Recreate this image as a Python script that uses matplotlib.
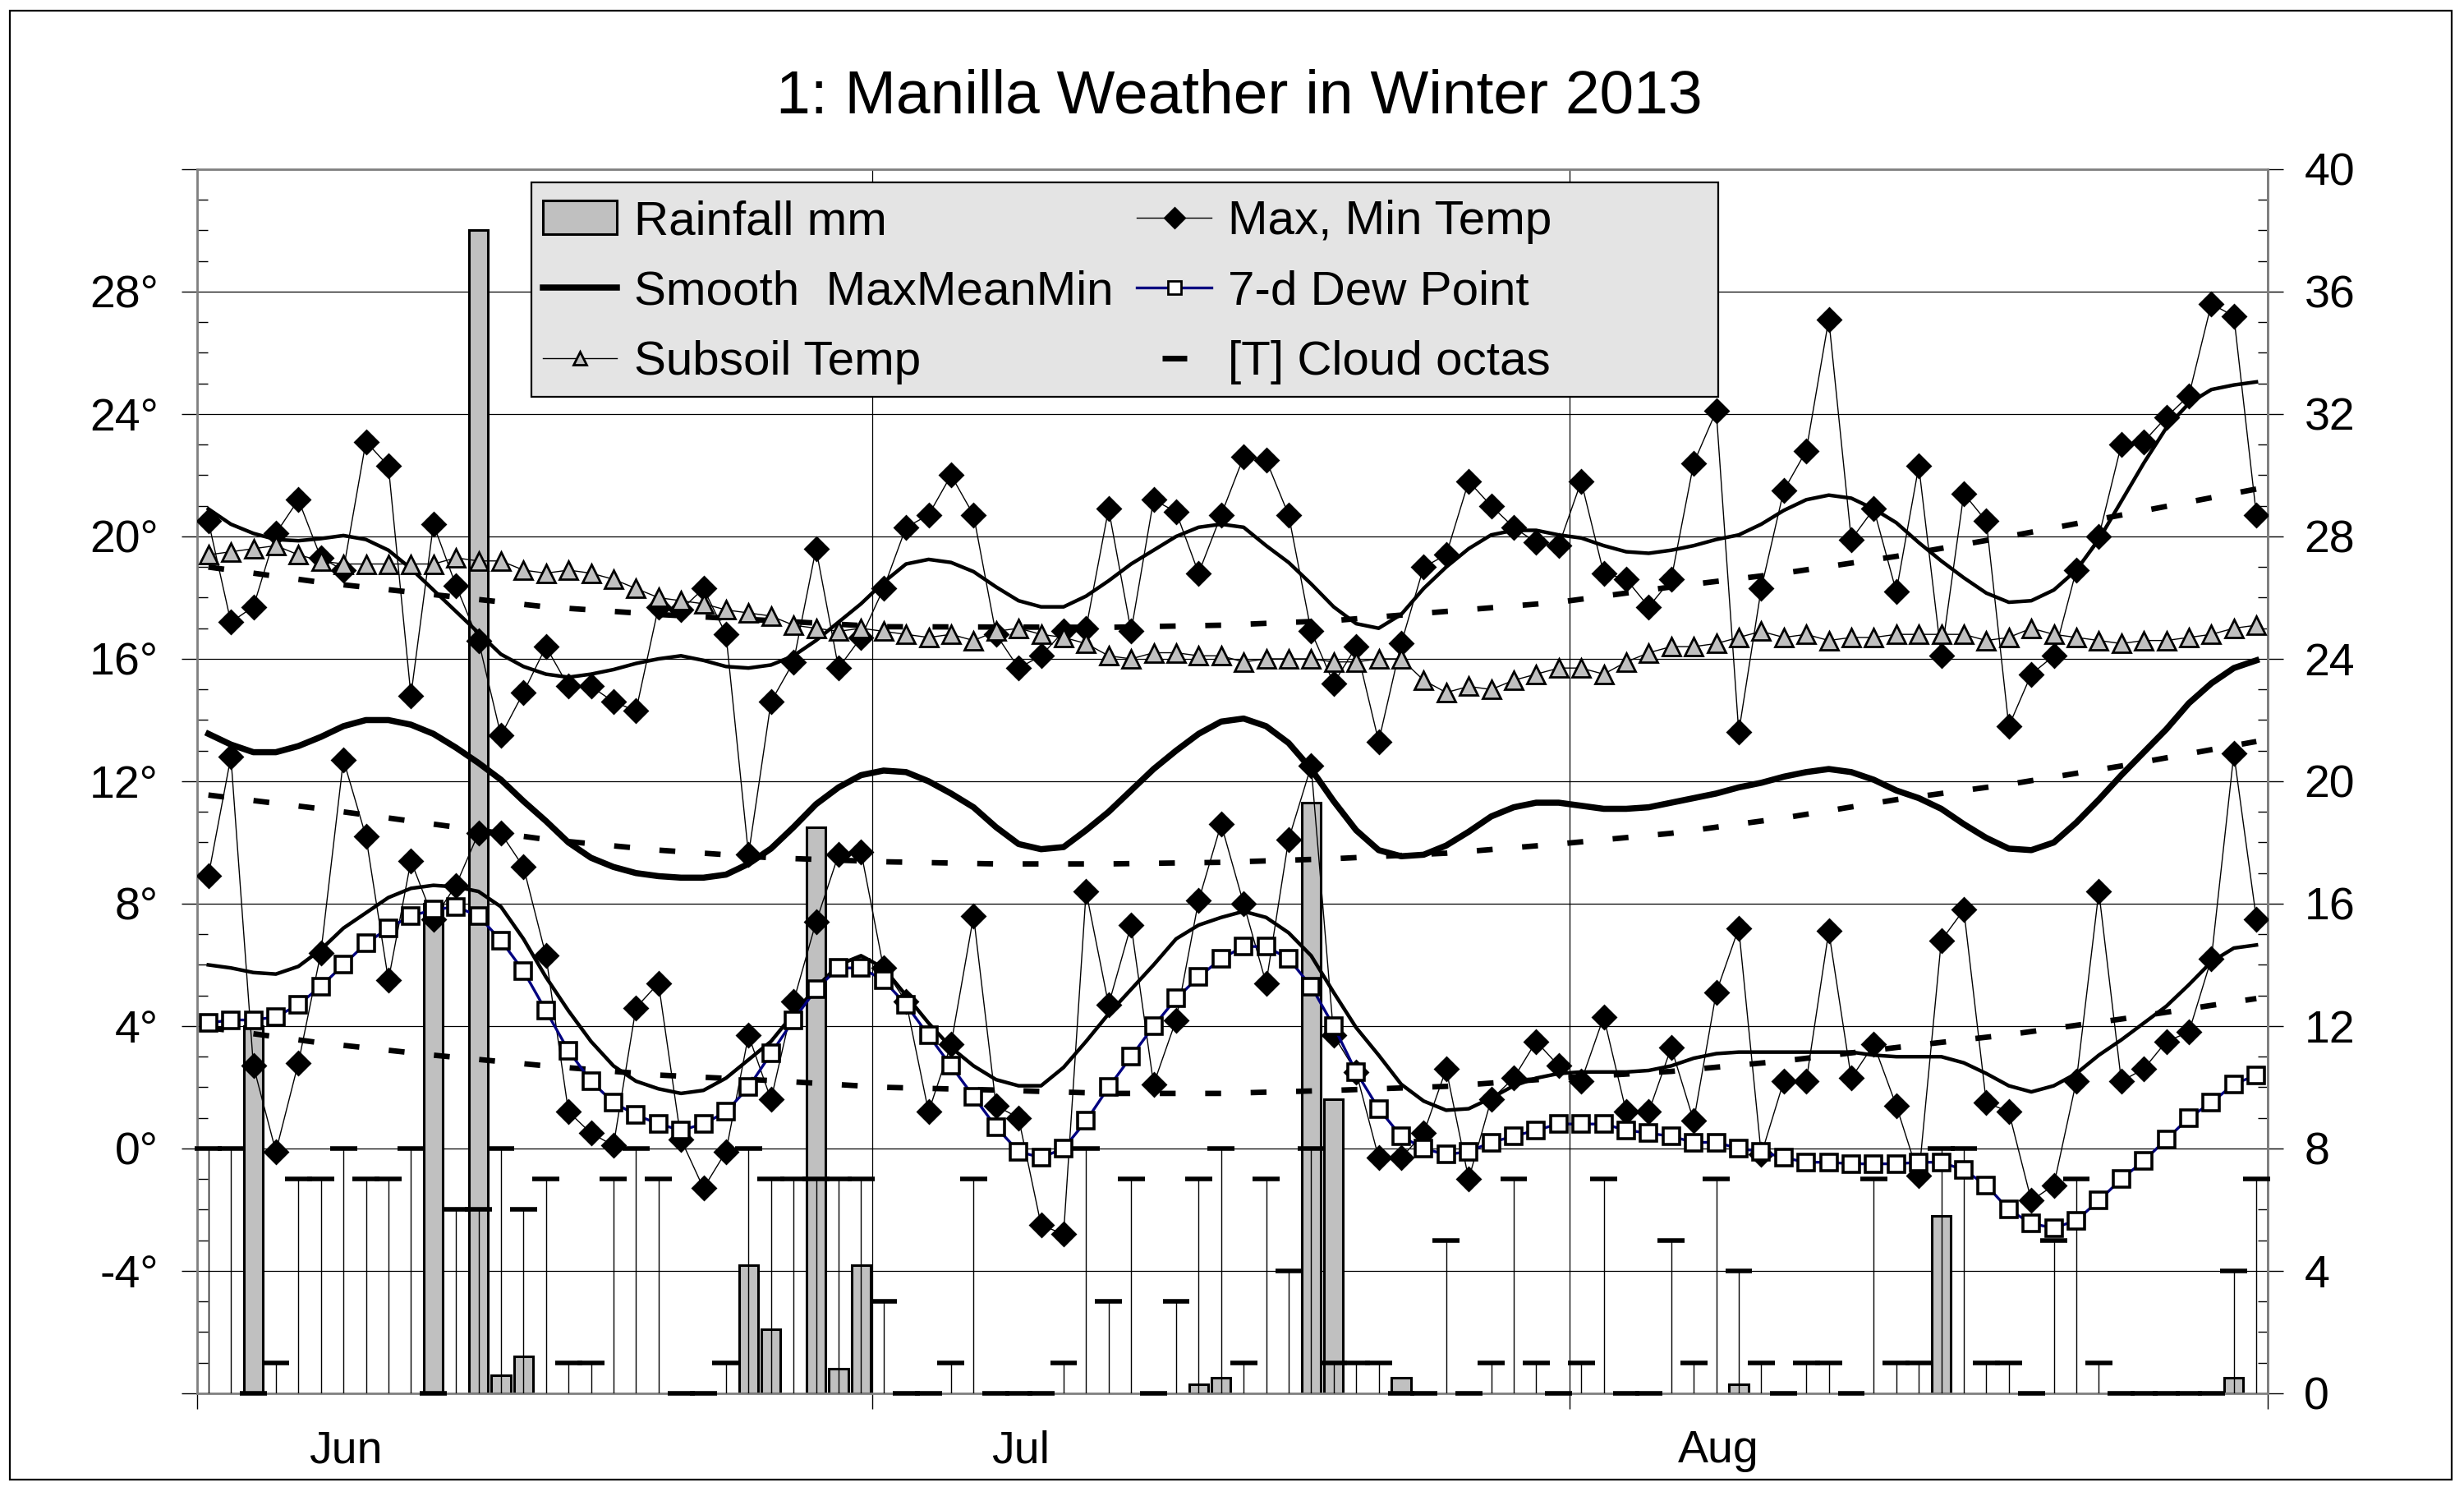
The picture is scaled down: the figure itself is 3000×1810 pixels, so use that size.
import numpy as np
import matplotlib
matplotlib.use("Agg")
import matplotlib.pyplot as plt
from matplotlib.patches import Rectangle
from matplotlib.lines import Line2D
from matplotlib.ticker import FixedLocator, MultipleLocator, FuncFormatter, NullFormatter

plt.rcParams['font.family'] = ['Liberation Sans', 'DejaVu Sans']
plt.rcParams['axes.unicode_minus'] = False

# --- daily data, 1 Jun .. 31 Aug 2013 (92 days) ---
max_temp = [20.5, 17.2, 17.7, 20.1, 21.2, 19.3, 18.9, 23.1, 22.3, 14.8,
            20.4, 18.4, 16.6, 13.5, 14.9, 16.4, 15.1, 15.1, 14.6, 14.3,
            17.7, 17.6, 18.3, 16.8, 9.6, 14.6, 15.9, 19.6, 15.7, 16.7,
            18.3, 20.3, 20.7, 22.0, 20.7, 16.8, 15.7, 16.1, 16.9, 17.0,
            20.9, 16.9, 21.2, 20.8, 18.8, 20.7, 22.6, 22.5, 20.7, 16.9,
            15.2, 16.4, 13.3, 16.5, 19.0, 19.4, 21.8, 21.0, 20.3, 19.8,
            19.7, 21.8, 18.8, 18.6, 17.7, 18.6, 22.4, 24.1, 13.6, 18.3,
            21.5, 22.8, 27.1, 19.9, 20.9, 18.2, 22.3, 16.1, 21.4, 20.5,
            13.8, 15.5, 16.1, 18.9, 20.0, 23.0, 23.1, 23.9, 24.6, 27.6,
            27.2, 20.7]
min_temp = [8.9, 12.8, 2.7, -0.1, 2.8, 6.4, 12.7, 10.2, 5.5, 9.4,
            7.5, 8.6, 10.3, 10.3, 9.2, 6.3, 1.2, 0.5, 0.1, 4.6,
            5.4, 0.3, -1.3, -0.1, 3.7, 1.6, 4.8, 7.4, 9.6, 9.7,
            5.9, 4.8, 1.2, 3.4, 7.6, 1.4, 1.0, -2.5, -2.8, 8.4,
            4.7, 7.3, 2.1, 4.2, 8.1, 10.6, 8.0, 5.4, 10.1, 12.5,
            3.7, 2.5, -0.3, -0.3, 0.5, 2.6, -1.0, 1.6, 2.3, 3.5,
            2.7, 2.2, 4.3, 1.2, 1.2, 3.3, 0.9, 5.1, 7.2, -0.2,
            2.2, 2.2, 7.1, 2.3, 3.4, 1.4, -0.9, 6.8, 7.8, 1.5,
            1.2, -1.7, -1.2, 2.2, 8.4, 2.2, 2.6, 3.5, 3.8, 6.2,
            12.9, 7.5]
subsoil = [19.4, 19.5, 19.6, 19.7, 19.4, 19.2, 19.1, 19.1, 19.1, 19.1,
           19.1, 19.3, 19.2, 19.2, 18.9, 18.8, 18.9, 18.8, 18.6, 18.3,
           18.0, 17.9, 17.8, 17.6, 17.5, 17.4, 17.1, 17.0, 16.9, 17.0,
           16.9, 16.8, 16.7, 16.8, 16.6, 16.9, 17.0, 16.8, 16.7, 16.5,
           16.1, 16.0, 16.2, 16.2, 16.1, 16.1, 15.9, 16.0, 16.0, 16.0,
           15.9, 15.9, 16.0, 16.0, 15.3, 14.9, 15.1, 15.0, 15.3, 15.5,
           15.7, 15.7, 15.5, 15.9, 16.2, 16.4, 16.4, 16.5, 16.7, 16.9,
           16.7, 16.8, 16.6, 16.7, 16.7, 16.8, 16.8, 16.8, 16.8, 16.6,
           16.7, 17.0, 16.8, 16.7, 16.6, 16.5, 16.6, 16.6, 16.7, 16.8,
           17.0, 17.1]
dew_7d = [4.1, 4.2, 4.2, 4.3, 4.7, 5.3, 6.0, 6.7, 7.2, 7.6,
          7.8, 7.9, 7.6, 6.8, 5.8, 4.5, 3.2, 2.2, 1.5, 1.1,
          0.8, 0.6, 0.8, 1.2, 2.0, 3.1, 4.2, 5.2, 5.9, 5.9,
          5.5, 4.7, 3.7, 2.7, 1.7, 0.7, -0.1, -0.3, 0.0, 0.9,
          2.0, 3.0, 4.0, 4.9, 5.6, 6.2, 6.6, 6.6, 6.2, 5.3,
          4.0, 2.5, 1.3, 0.4, 0.0, -0.2, -0.1, 0.2, 0.4, 0.6,
          0.8, 0.8, 0.8, 0.6, 0.5, 0.4, 0.2, 0.2, 0.0, -0.1,
          -0.3, -0.45, -0.45, -0.5, -0.5, -0.5, -0.45, -0.45, -0.7, -1.2,
          -2.0, -2.45, -2.6, -2.35, -1.7, -1.0, -0.4, 0.3, 1.0, 1.5,
          2.1, 2.4]
smooth_max = [20.9, 20.4, 20.1, 19.9, 19.86, 19.93, 20.03, 19.9, 19.55, 18.95,
              18.25, 17.55, 16.85, 16.15, 15.75, 15.5, 15.4, 15.5, 15.65, 15.85,
              16.0, 16.1, 15.95, 15.75, 15.7, 15.8, 16.1, 16.6, 17.2, 17.8,
              18.5, 19.1, 19.25, 19.15, 18.85, 18.35, 17.9, 17.7, 17.7, 18.05,
              18.55, 19.1, 19.55, 20.0, 20.3, 20.4, 20.3, 19.7, 19.15, 18.45,
              17.7, 17.15, 17.0, 17.45, 18.3, 19.0, 19.6, 20.05, 20.2, 20.2,
              20.05, 19.95, 19.7, 19.5, 19.45, 19.55, 19.7, 19.9, 20.05, 20.4,
              20.85, 21.2, 21.35, 21.25, 20.9, 20.45, 19.8, 19.2, 18.65, 18.15,
              17.85, 17.9, 18.25, 18.9, 19.9, 21.15, 22.4, 23.55, 24.35, 24.8,
              24.95, 25.05]
smooth_mean = [13.55, 13.2, 12.95, 12.95, 13.15, 13.45, 13.8, 14.0, 14.0, 13.85,
               13.55, 13.1, 12.6, 12.05, 11.35, 10.7, 10.0, 9.5, 9.2, 9.0,
               8.9, 8.85, 8.85, 8.95, 9.3, 9.8, 10.5, 11.25, 11.8, 12.2,
               12.35, 12.3, 12.0, 11.6, 11.15, 10.5, 9.95, 9.78, 9.85, 10.4,
               11.0, 11.7, 12.4, 13.0, 13.55, 13.95, 14.05, 13.8, 13.25, 12.4,
               11.35, 10.4, 9.75, 9.55, 9.6, 9.9, 10.35, 10.85, 11.15, 11.3,
               11.3, 11.2, 11.1, 11.1, 11.15, 11.3, 11.45, 11.6, 11.8, 11.95,
               12.15, 12.3, 12.4, 12.3, 12.05, 11.7, 11.45, 11.1, 10.6, 10.15,
               9.8, 9.75, 10.0, 10.65, 11.4, 12.2, 12.95, 13.7, 14.55, 15.2,
               15.7, 15.95]
smooth_min = [6.0, 5.9, 5.75, 5.7, 5.95, 6.5, 7.2, 7.7, 8.2, 8.5,
              8.6, 8.55, 8.4, 7.9, 6.85, 5.6, 4.5, 3.5, 2.7, 2.2,
              1.95, 1.8, 1.9, 2.3, 2.9, 3.5, 4.4, 5.25, 6.0, 6.3,
              5.9, 5.0, 4.1, 3.3, 2.7, 2.25, 2.05, 2.05, 2.65, 3.5,
              4.4, 5.2, 6.0, 6.85, 7.3, 7.55, 7.75, 7.55, 7.05, 6.3,
              5.1, 3.95, 3.05, 2.1, 1.55, 1.25, 1.3, 1.65, 2.05, 2.3,
              2.45, 2.5, 2.5, 2.5, 2.55, 2.7, 2.95, 3.1, 3.15, 3.15,
              3.15, 3.15, 3.15, 3.15, 3.05, 3.0, 3.0, 3.0, 2.8, 2.45,
              2.05, 1.85, 2.05, 2.45, 3.05, 3.55, 4.1, 4.65, 5.35, 6.1,
              6.55, 6.65]
cloud_octas = [8, 8, 0, 1, 7, 7, 8, 7, 7, 8,
               0, 6, 6, 8, 6, 7, 1, 1, 7, 8,
               7, 0, 0, 1, 8, 7, 7, 7, 7, 7,
               3, 0, 0, 1, 7, 0, 0, 0, 1, 8,
               3, 7, 0, 3, 7, 8, 1, 7, 4, 8,
               1, 1, 1, 0, 0, 5, 0, 1, 7, 1,
               0, 1, 7, 0, 0, 5, 1, 7, 4, 1,
               0, 1, 1, 0, 7, 1, 1, 8, 8, 1,
               1, 0, 5, 7, 1, 0, 0, 0, 0, 0,
               4, 7]
rain_mm = [0, 0, 12.0, 0, 0, 0, 0, 0, 0, 0,
           16.0, 0, 38.0, 0.6, 1.2, 0, 0, 0, 0, 0,
           0, 0, 0, 0, 4.2, 2.1, 0, 18.5, 0.8, 4.2,
           0, 0, 0, 0, 0, 0, 0, 0, 0, 0,
           0, 0, 0, 0, 0.3, 0.5, 0, 0, 0, 19.3,
           9.6, 0, 0, 0.5, 0, 0, 0, 0, 0, 0,
           0, 0, 0, 0, 0, 0, 0, 0, 0.3, 0,
           0, 0, 0, 0, 0, 0, 0, 5.8, 0, 0,
           0, 0, 0, 0, 0, 0, 0, 0, 0, 0,
           0.5, 0]

# long-term average lines (dashed), read every 5 days
clim_day = [0, 5, 10, 15, 20, 25, 30, 35, 40, 45, 50, 55, 60, 65, 70, 75, 80, 85, 91]
clim_max = [19.0, 18.5, 18.1, 17.7, 17.45, 17.25, 17.05, 17.04, 17.03, 17.1,
            17.25, 17.55, 17.85, 18.35, 18.8, 19.35, 20.0, 20.7, 21.55]
clim_mean = [11.55, 11.1, 10.6, 10.1, 9.75, 9.5, 9.37, 9.3, 9.3, 9.35,
             9.47, 9.65, 9.95, 10.3, 10.8, 11.4, 11.9, 12.5, 13.3]
clim_min = [3.95, 3.45, 3.05, 2.7, 2.4, 2.22, 2.0, 1.91, 1.8, 1.8,
            1.9, 2.03, 2.3, 2.52, 2.86, 3.3, 3.72, 4.23, 4.9]

month_names = ['Jun', 'Jul', 'Aug']
month_start = [0, 30, 61, 92]

x = np.arange(len(max_temp)) + 0.5
xc = np.array(clim_day) + 0.5
rain = np.array(rain_mm)
cloud = np.array(cloud_octas)

BAR_GREY = '#c0c0c0'
SPINE_GREY = '#808080'
OFFSET = 8  # right axis (mm, octas) = left axis (deg C) + 8

fig = plt.figure(figsize=(15, 9.05), dpi=200)
ax = fig.add_axes([0.08, 0.063, 0.8403, 0.8232])
ax.set_xlim(0, 92)
ax.set_ylim(-8, 32)
ax.set_axisbelow(True)

# rainfall bars on the right-hand scale
wet = rain > 0
ax.bar(x[wet], rain[wet], width=0.85, bottom=-OFFSET, color=BAR_GREY,
       edgecolor='black', linewidth=1.1, zorder=2)

# cloud octas: drop line plus a dash
ax.vlines(x, -OFFSET, cloud - OFFSET, color='black', lw=0.5, zorder=3)
ax.hlines(cloud - OFFSET, x - 0.6, x + 0.6, color='black', lw=2.0, zorder=3, clip_on=False)

# long-term average dashed lines
for series in (clim_max, clim_mean, clim_min):
    ax.plot(xc, series, color='black', lw=2.4, dashes=(2.9, 5.4), zorder=4)

# smooth lines
ax.plot(x, smooth_max, color='black', lw=1.6, zorder=4)
ax.plot(x, smooth_min, color='black', lw=1.6, zorder=4)
ax.plot(x, smooth_mean, color='black', lw=2.7, zorder=4)

# max / min temps
for series in (max_temp, min_temp):
    ax.plot(x, series, color='black', lw=0.5, marker='D', ms=7, mfc='black',
            mec='black', zorder=5)

ax.plot(x, subsoil, color='black', lw=0.5, marker='^', ms=8, mfc=BAR_GREY,
        mec='black', mew=1.0, zorder=6)
ax.plot(x, dew_7d, color='#000080', lw=1.2, marker='s', ms=7.5, mfc='white',
        mec='black', mew=1.3, zorder=7)

# --- axes styling ---
for sp in ax.spines.values():
    sp.set_color(SPINE_GREY)
    sp.set_linewidth(1.0)

ax.yaxis.set_major_locator(FixedLocator(range(-8, 33, 4)))
ax.yaxis.set_major_formatter(FuncFormatter(lambda v, p: f"{v:g}°" if -8 < v < 32 else ""))
ax.yaxis.set_minor_locator(MultipleLocator(1))
ax.tick_params(axis='y', which='major', direction='out', length=7, width=0.5,
               labelsize=20, pad=10)
ax.tick_params(axis='y', which='minor', direction='in', length=4.5, width=0.5)
ax.grid(axis='y', which='major', color='black', lw=0.45)

ax.xaxis.set_major_locator(FixedLocator(month_start))
ax.xaxis.set_major_formatter(NullFormatter())
ax.xaxis.set_minor_locator(FixedLocator([m + 6.6 for m in month_start[:3]]))
ax.xaxis.set_minor_formatter(FuncFormatter(lambda v, p: month_names[p] if p < 3 else ""))
ax.tick_params(axis='x', which='major', direction='out', length=7, width=0.5)
ax.tick_params(axis='x', which='minor', length=0, labelsize=20, pad=16)
ax.grid(axis='x', which='major', color='black', lw=0.45)

secax = ax.secondary_yaxis('right', functions=(lambda t: t + OFFSET, lambda r: r - OFFSET))
secax.set_yticks(range(0, 41, 4))
secax.yaxis.set_minor_locator(MultipleLocator(1))
secax.tick_params(axis='y', which='major', direction='out', length=7, width=0.5,
                  labelsize=20, pad=9)
secax.tick_params(axis='y', which='minor', direction='in', length=4.5, width=0.5)
secax.spines['right'].set_color(SPINE_GREY)
secax.spines['right'].set_linewidth(1.0)

# --- legend with a grey box ---
ax.add_patch(Rectangle((0.1615, 0.814), 0.5732, 0.175, transform=ax.transAxes,
                       facecolor='#e4e4e4', edgecolor='black', lw=0.8, zorder=8))
handles = [
    Rectangle((0, 0), 1, 1, facecolor=BAR_GREY, edgecolor='black', lw=1.1),
    Line2D([], [], color='black', lw=2.7),
    Line2D([], [], color='black', lw=0.5, marker='^', ms=6, mfc=BAR_GREY, mec='black'),
    Line2D([], [], color='black', lw=0.5, marker='D', ms=6, mfc='black', mec='black'),
    Line2D([], [], color='#000080', lw=1.2, marker='s', ms=6, mfc='white', mec='black'),
    Line2D([], [], color='black', lw=0, marker='_', ms=11, mew=2.5),
]
labels = ['Rainfall mm', 'Smooth  MaxMeanMin', 'Subsoil Temp',
          'Max, Min Temp', '7-d Dew Point', '[T] Cloud octas']
leg = ax.legend(handles, labels, ncol=2, loc='upper left', bbox_to_anchor=(0.167, 0.975),
                frameon=False, fontsize=21, borderpad=0, borderaxespad=0,
                handlelength=1.55, handletextpad=0.35, columnspacing=0.5,
                labelspacing=0.54)
leg.set_zorder(9)

fig.text(0.503, 0.935, '1: Manilla Weather in Winter 2013', ha='center', va='center',
         fontsize=27)

fig.patches.append(Rectangle((0.004, 0.005), 0.991, 0.988, transform=fig.transFigure,
                             fill=False, edgecolor='black', lw=0.8))

fig.savefig('out.png', dpi=200)
